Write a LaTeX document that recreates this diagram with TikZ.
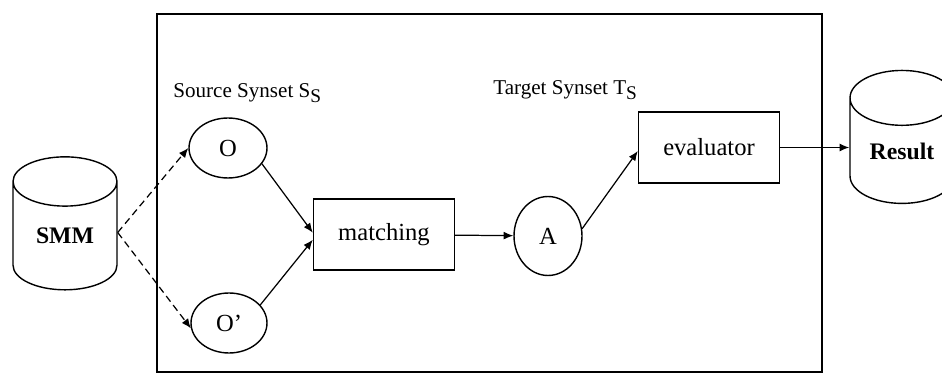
\documentclass[tikz,border=0pt]{standalone}
\usepackage{fontspec}
\setmainfont{Liberation Serif}
\usetikzlibrary{shapes.geometric,arrows.meta}
\newcommand{\synlabel}[2]{#1\raisebox{-0.5ex}{\fontsize{11}{12}\selectfont #2}}
\tikzset{
  proc/.style={draw,line width=0.8pt,minimum width=2.82cm,minimum height=1.42cm,inner sep=0pt},
  oval/.style={draw,ellipse,line width=0.8pt,inner sep=0pt},
  db/.style={draw,cylinder,shape border rotate=90,aspect=0.85,line width=0.8pt,
    minimum width=2.08cm,minimum height=2.66cm,inner sep=0pt,font=\fontsize{13.5}{16}\selectfont\bfseries},
  lbl/.style={anchor=base west,inner sep=0pt,font=\fontsize{12}{14}\selectfont},
  arr/.style={-{Latex[length=5.5pt,width=4.5pt]},line width=0.7pt},
  dsh/.style={arr,dash pattern=on 4pt off 2.5pt}
}
\begin{document}
\begin{tikzpicture}[x=0.02cm,y=-0.02cm,font=\fontsize{14}{16}\selectfont]
\useasboundingbox (0,0) rectangle (942,374);
\draw[line width=1pt] (157,14) rectangle (822,372);
\node[db] (smm) at (65,236) {SMM};
\node[db] (res) at (902,151) {Result};
\node[oval,minimum width=1.56cm,minimum height=1.2cm] (o) at (228,148) {O};
\node[oval,minimum width=1.52cm,minimum height=1.2cm] (o2) at (229,323) {O'};
\node[proc] (match) at (384,234.5) {matching};
\node[oval,minimum width=1.36cm,minimum height=1.58cm] (a) at (548,236) {A};
\node[proc] (eval) at (709,147.5) {evaluator};
\node[lbl] (src) at (173,98) {Source Synset \synlabel{S}{S}};
\node[lbl] (tgt) at (493,95) {Target Synset \synlabel{T}{S}};
\draw[dsh] ([yshift=2pt]smm.east) -- (o.west);
\draw[dsh] ([yshift=2pt]smm.east) -- (o2.188);
\draw[arr] (o.-25) -- ([yshift=1pt]match.west);
\draw[arr] (o2.30) -- ([yshift=-3pt]match.west);
\draw[arr] (match) -- (a);
\draw[arr] (a.12) -- ([yshift=-2pt]eval.west);
\draw[arr] (eval.east) -- (eval.east -| res.west);
\end{tikzpicture}
\end{document}
